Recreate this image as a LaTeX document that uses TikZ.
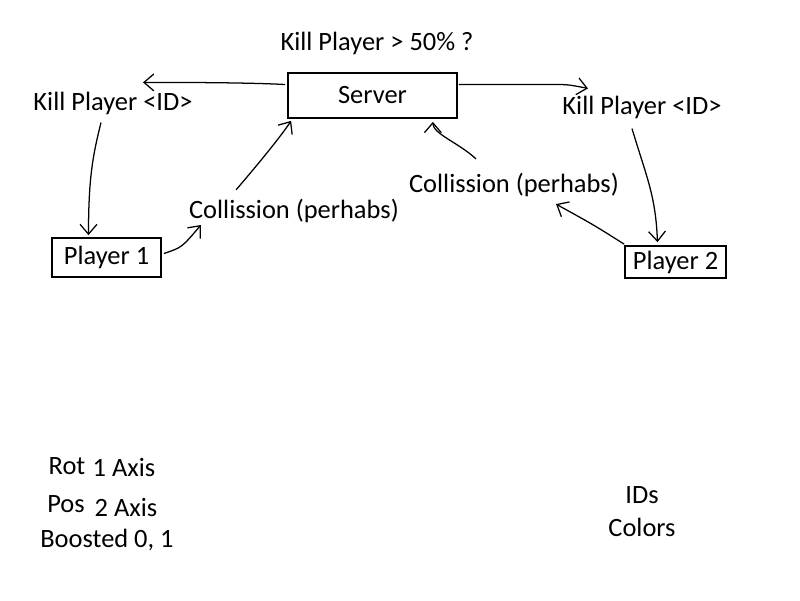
\documentclass[tikz,border=0pt]{standalone}
\usepackage{fontspec}
\setmainfont{Carlito}
\usetikzlibrary{arrows.meta,calc}
\begin{document}
\begin{tikzpicture}[x=0.025cm,y=-0.025cm,
  every node/.style={font=\fontsize{18.8}{22}\selectfont, inner sep=0pt},
  box/.style={draw, line width=1.2pt},
  arr/.style={line width=0.9pt, -{Straight Barb[length=7pt,width=12pt,line width=0.9pt]}}]
\useasboundingbox (0,0) rectangle (800,600);
% nodes
\node[box, minimum width=4.225cm, minimum height=1.125cm] (server) at (372.5,95.5) {Server};
\node[box, minimum width=2.725cm, minimum height=0.975cm] (p1) at (106.5,257.5) {Player 1};
\node[box, minimum width=2.525cm, minimum height=0.8cm] (p2) at (675.5,262) {Player 2};
\node (q) at (377,43) {Kill Player > 50\% ?};
\node (killL) at (113,103) {Kill Player <ID>};
\node (killR) at (642,107) {Kill Player <ID>};
\node (colL) at (294,211) {Collission (perhabs)};
\node (colR) at (514,185) {Collission (perhabs)};
\node (rot) at (67,466) {Rot};
\node (rotv) at (124,467) {1 Axis};
\node (pos) at (66,504) {Pos};
\node (posv) at (126,507) {2 Axis};
\node (boost) at (107,540) {Boosted 0, 1};
\node (ids) at (642,495) {IDs};
\node (cols) at (642,527) {Colors};
% connectors
\draw[arr] ($(server.west)+(-2,-11)$) .. controls ($(server.west)+(-40,-13)$) and ($(killL.north)+(70,-9)$) .. ($(killL.north)+(30,-9)$);
\draw[arr] ($(killL.south)+(-12,8)$) .. controls ($(killL.south)+(-20,40)$) and ($(p1.north)+(-18,-60)$) .. ($(p1.north)+(-18,-2)$);
\draw[arr] ($(p1.east)+(2,-4)$) .. controls ($(p1.east)+(20,-10)$) .. ($(colL.west)+(12,14)$);
\draw[arr] ($(colL.north)+(-58,-9)$) .. controls ($(colL.north)+(-40,-30)$) and ($(server.south west)+(-8,20)$) .. ($(server.south west)+(4,2)$);
\draw[arr] ($(server.east)+(1,-11)$) -- ($(server.east)+(95,-11)$) .. controls ($(server.east)+(110,-11)$) .. ($(killR.north)+(-54,-7)$);
\draw[arr] ($(killR.south)+(-10,10)$) .. controls ($(killR.south)+(5,60)$) and ($(p2.north)+(-20,-50)$) .. ($(p2.north)+(-18,-3)$);
\draw[arr] ($(p2.north west)+(0,-1)$) .. controls ($(p2.north west)+(-30,-20)$) .. ($(colR.south)+(42,7)$);
\draw[arr] ($(colR.north)+(-38,-14)$) .. controls ($(colR.north)+(-55,-30)$) and ($(server.south east)+(-25,15)$) .. ($(server.south east)+(-25,3)$);
\end{tikzpicture}
\end{document}
